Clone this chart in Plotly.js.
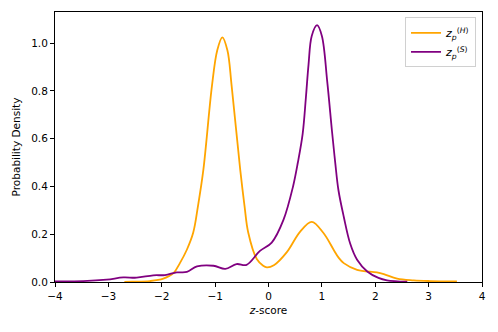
<!DOCTYPE html>
<html>
<head>
<meta charset="utf-8">
<script src="https://cdn.plot.ly/plotly-3.0.1.min.js"></script>
<style>
  html, body { margin: 0; padding: 0; background: #fff; }
  #grafico { width: 498px; height: 332px; }
</style>
</head>
<body>
<div id="grafico"></div>
<script>
// valores (densidad estimada)
const xH = [-2.7, -2.55, -2.22, -1.97, -1.78, -1.66, -1.53, -1.41, -1.32, -1.22, -1.06, -0.96, -0.865, -0.77, -0.69, -0.53, -0.45, -0.38, -0.22, -0.1, -0.03, 0.1, 0.34, 0.59, 0.81, 1.03, 1.22, 1.31, 1.41, 1.66, 2.03, 2.16, 2.41, 2.72, 3.03, 3.53];
const yH = [0.0, 0.001, 0.004, 0.014, 0.037, 0.079, 0.135, 0.207, 0.32, 0.47, 0.82, 0.97, 1.024, 0.97, 0.82, 0.47, 0.32, 0.207, 0.096, 0.068, 0.061, 0.07, 0.124, 0.21, 0.252, 0.205, 0.135, 0.103, 0.079, 0.051, 0.04, 0.033, 0.014, 0.007, 0.004, 0.002];

const xS = [-4, -3.47, -3.03, -2.72, -2.47, -2.16, -1.94, -1.72, -1.53, -1.34, -1.03, -0.81, -0.6, -0.41, -0.16, 0.06, 0.28, 0.46, 0.55, 0.64, 0.70, 0.75, 0.81, 0.91, 1.0, 1.1, 1.19, 1.25, 1.31, 1.41, 1.53, 1.66, 1.85, 2.06, 2.22, 2.6];
const yS = [0.003, 0.004, 0.01, 0.019, 0.018, 0.028, 0.029, 0.04, 0.042, 0.065, 0.068, 0.055, 0.075, 0.072, 0.13, 0.165, 0.26, 0.40, 0.50, 0.62, 0.77, 0.91, 1.03, 1.075, 1.03, 0.84, 0.63, 0.50, 0.385, 0.273, 0.161, 0.093, 0.044, 0.017, 0.007, 0.001];

const xTicks = [-4, -3, -2, -1, 0, 1, 2, 3, 4];
const yTicks = [0, 0.2, 0.4, 0.6, 0.8, 1.0];

const fuente = 'DejaVu Sans, sans-serif';

const trazoH = {
    x: xH, y: yH, type: 'scatter', mode: 'lines',
    line: { color: '#FFA500', width: 1.8, shape: 'spline', smoothing: 1 },
    name: '<i>z</i><sub><i>p</i></sub><sup>(<i>H</i>)</sup>'
};
const trazoS = {
    x: xS, y: yS, type: 'scatter', mode: 'lines',
    line: { color: '#800080', width: 1.8, shape: 'spline', smoothing: 1 },
    name: '<i>z</i><sub><i>p</i></sub><sup>(<i>S</i>)</sup>'
};

const ejeComun = {
    showgrid: false, zeroline: false,
    showline: true, linecolor: '#000', linewidth: 1, mirror: true,
    ticks: 'outside', ticklen: 4, tickwidth: 1, tickcolor: '#000',
    tickfont: { family: fuente, size: 10.5, color: '#000' }
};

const layout = {
    width: 498, height: 332,
    margin: { l: 55, r: 16, t: 12, b: 50 },
    paper_bgcolor: '#fff', plot_bgcolor: '#fff',
    font: { family: fuente, size: 10, color: '#000' },
    xaxis: Object.assign({}, ejeComun, {
        range: [-4, 4], tickvals: xTicks, ticktext: xTicks.map(v => v < 0 ? '\u2212' + Math.abs(v) : String(v)),
        title: { text: '<i>z</i>-score', font: { family: fuente, size: 10.5, color: '#000' }, standoff: 6 }
    }),
    yaxis: Object.assign({}, ejeComun, {
        range: [0, 1.13], tickvals: yTicks, ticktext: yTicks.map(v => v.toFixed(1)),
        title: { text: 'Probability Density', font: { family: fuente, size: 10.5, color: '#000' }, standoff: 8 }
    }),
    showlegend: true,
    legend: {
        x: 0.986, y: 0.98, xanchor: 'right', yanchor: 'top',
        bgcolor: 'rgba(255,255,255,0.8)', bordercolor: '#d0d0d0', borderwidth: 1,
        font: { family: fuente, size: 11, color: '#000' }
    }
};

Plotly.newPlot('grafico', [trazoH, trazoS], layout, { displayModeBar: false, staticPlot: true });
</script>
</body>
</html>
